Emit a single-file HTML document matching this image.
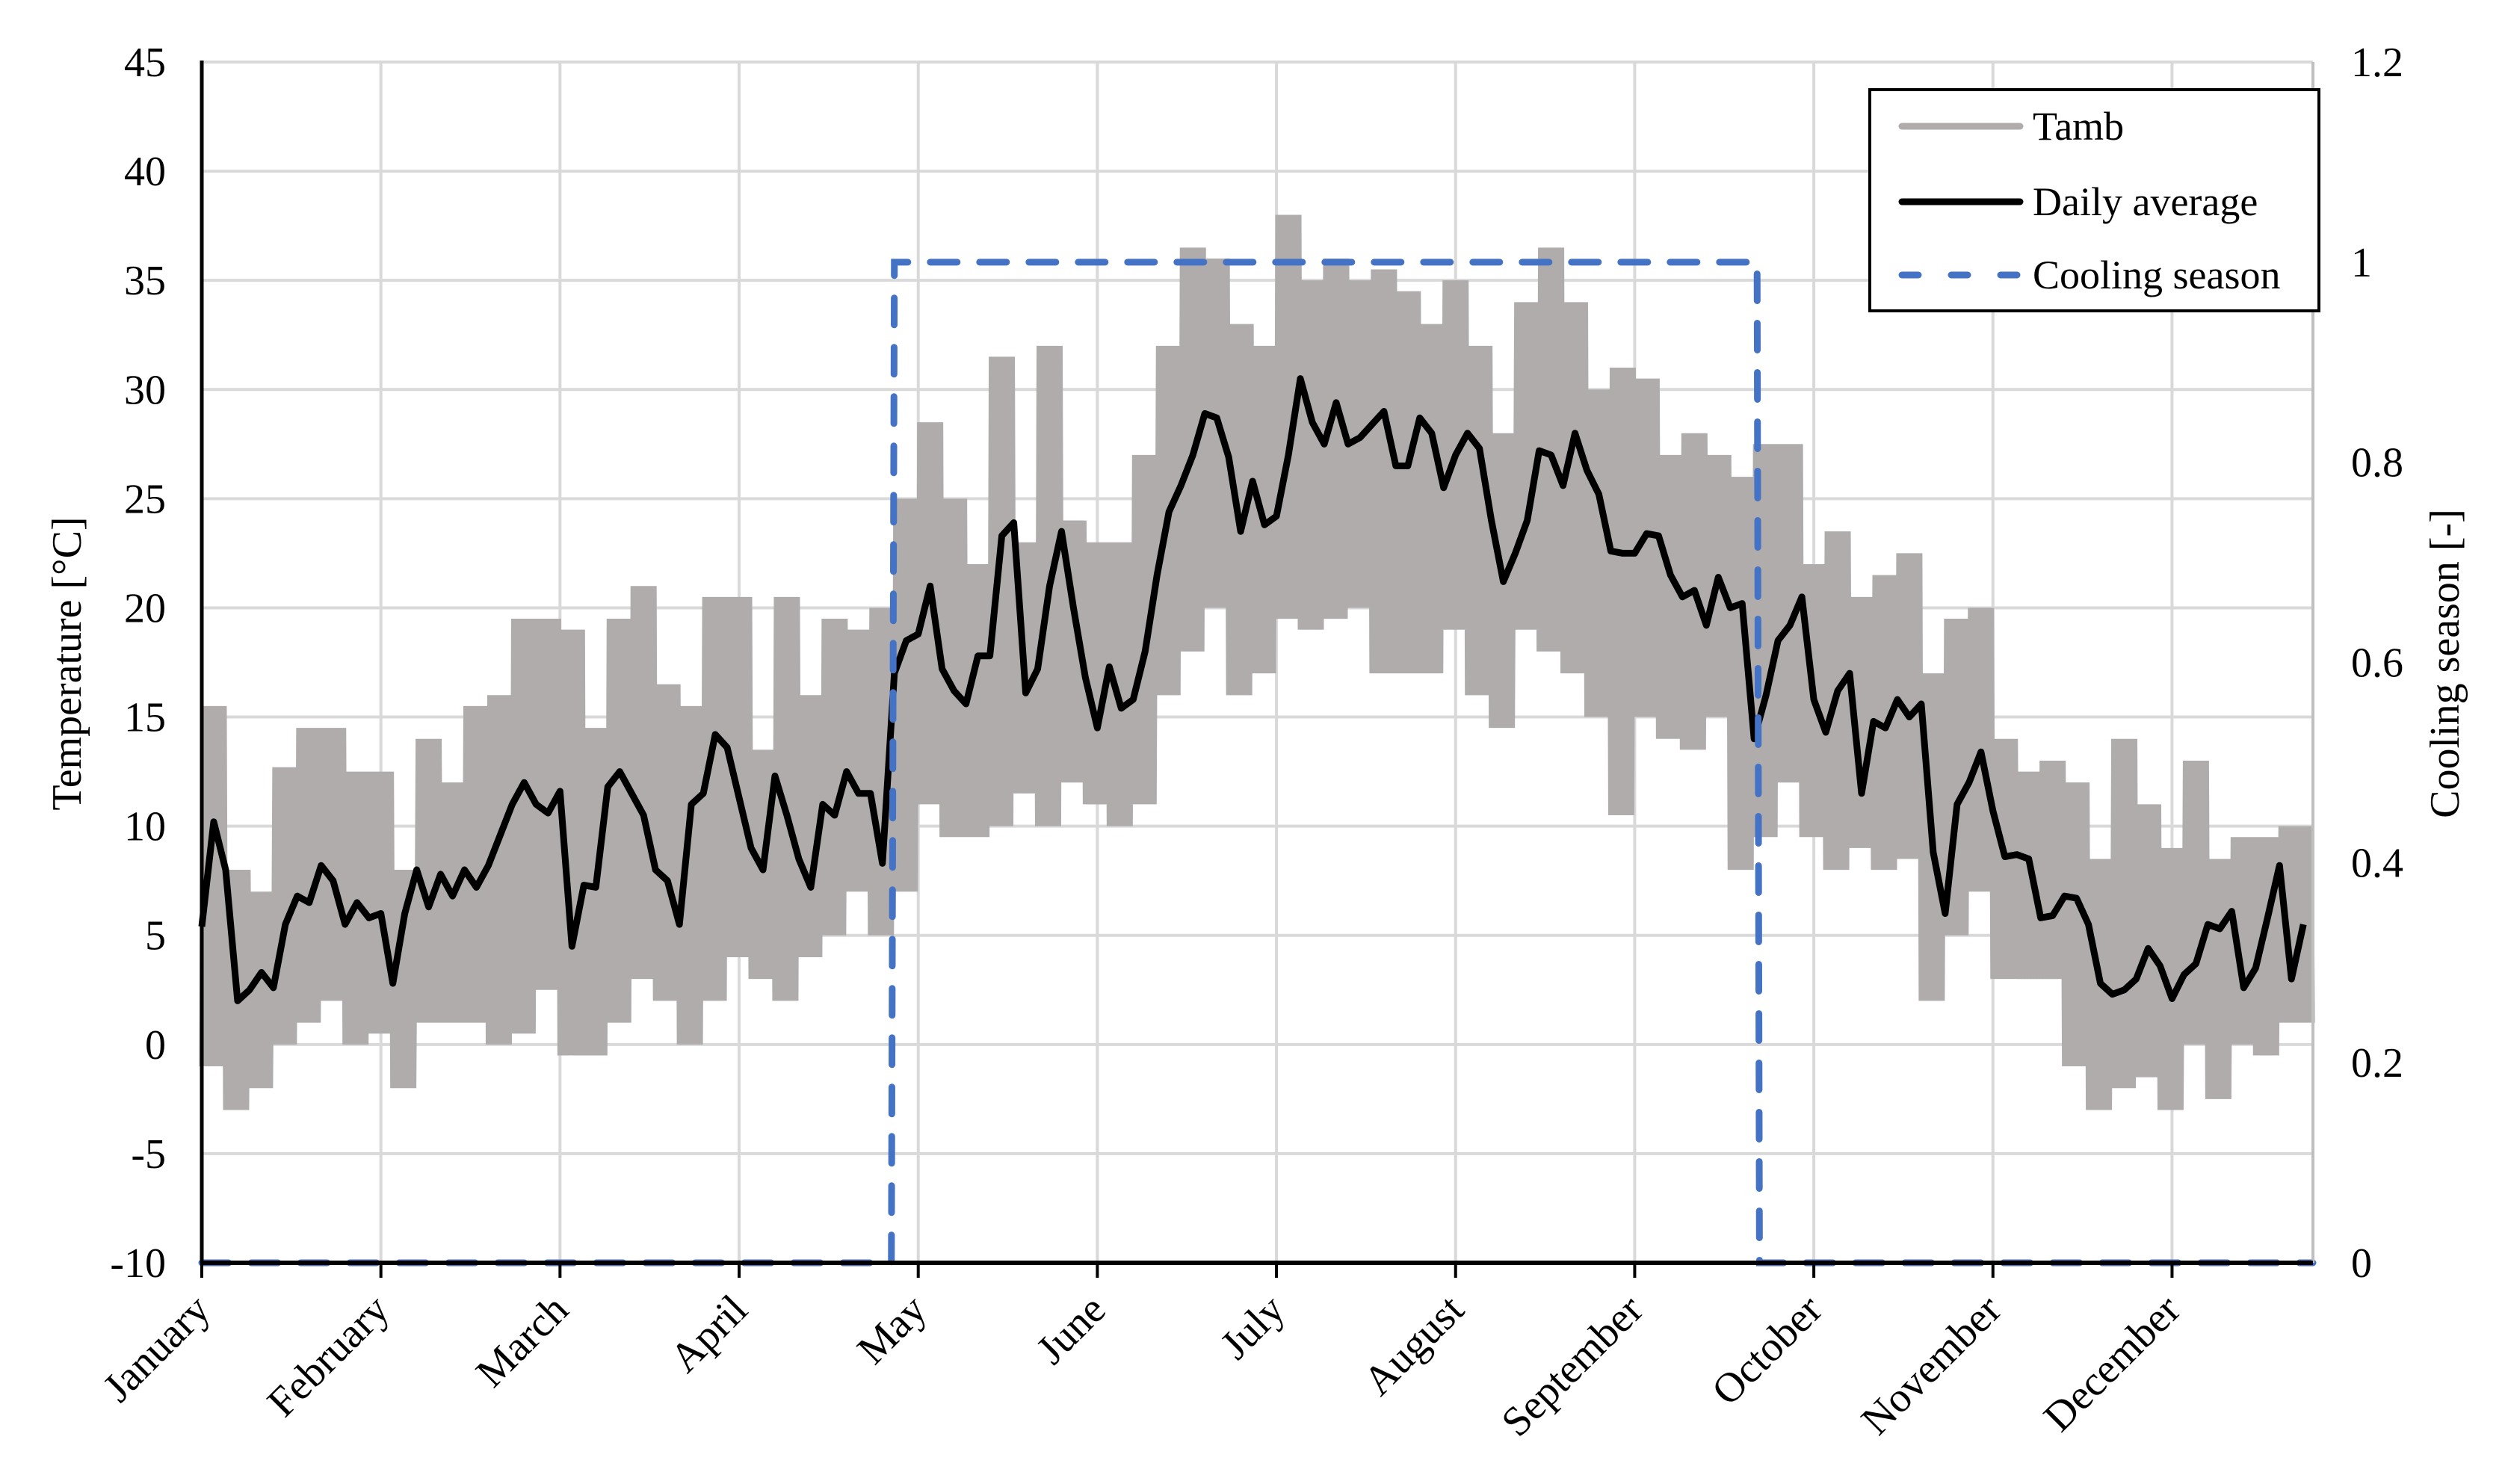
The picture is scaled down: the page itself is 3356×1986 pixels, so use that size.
<!DOCTYPE html>
<html><head><meta charset="utf-8"><style>
html,body{margin:0;padding:0;background:#fff;}
svg{display:block;font-family:"Liberation Serif",serif;}
</style></head><body>
<svg id="chart" width="3356" height="1986" viewBox="0 0 3356 1986" xmlns="http://www.w3.org/2000/svg">
<g id="grid"></g>
<g id="tamb"></g>
<g id="avg"></g>
<g id="cool"></g>
<g id="axes"></g>
<text x="0" y="0" font-size="56" text-anchor="middle" transform="translate(108,888) rotate(-90)">Temperature [°C]</text>
<text x="0" y="0" font-size="56" text-anchor="middle" transform="translate(3290,888) rotate(-90)">Cooling season [-]</text>
<g>
<rect x="2502" y="120" width="601" height="296" fill="#fff" stroke="#000" stroke-width="4"/>
<g><line x1="2545" y1="169" x2="2703" y2="169" stroke="#afacab" stroke-width="9" stroke-linecap="round"/><text x="2720" y="187" font-size="54">Tamb</text></g>
<g><line x1="2545" y1="270" x2="2703" y2="270" stroke="#000" stroke-width="9" stroke-linecap="round"/><text x="2720" y="288" font-size="54">Daily average</text></g>
<g><line x1="2545" y1="368" x2="2703" y2="368" stroke="#4472c4" stroke-width="9" stroke-linecap="round" stroke-dasharray="22,44"/><text x="2720" y="386" font-size="54">Cooling season</text></g>
</g>
</svg>
<script>
const months = ["January","February","March","April","May","June","July","August","September","October","November","December"];
const yTicks = [-10,-5,0,5,10,15,20,25,30,35,40,45];
const y2Ticks = ["0","0.2","0.4","0.6","0.8","1","1.2"];
// daily average, every 2 days starting day 0 (30-day months)
const avgTemp = [
5.4,10.2,8,2,2.5,3.3,2.6,5.5,6.8,6.5,8.2,7.5,5.5,6.5,5.8,
6,2.8,6,8,6.3,7.8,6.8,8,7.2,8.2,9.6,11,12,11,10.6,
11.6,4.5,7.3,7.2,11.8,12.5,11.5,10.5,8,7.5,5.5,11,11.5,14.2,13.6,
11.3,9,8,12.3,10.5,8.5,7.2,11,10.5,12.5,11.5,11.5,8.3,17,18.5,
18.8,21,17.2,16.2,15.6,17.8,17.8,23.3,23.9,16.1,17.2,21,23.5,20,16.8,
14.5,17.3,15.4,15.8,18,21.5,24.4,25.6,27,28.9,28.7,26.9,23.5,25.8,23.8,
24.2,27,30.5,28.5,27.5,29.4,27.5,27.8,28.4,29,26.5,26.5,28.7,28,25.5,
27,28,27.3,24,21.2,22.5,24,27.2,27,25.6,28,26.3,25.2,22.6,22.5,
22.5,23.4,23.3,21.5,20.5,20.8,19.2,21.4,20,20.2,14,16,18.5,19.2,20.5,
15.8,14.3,16.2,17,11.5,14.8,14.5,15.8,15,15.6,8.8,6,11,12,13.4,
10.7,8.6,8.7,8.5,5.8,5.9,6.8,6.7,5.5,2.8,2.3,2.5,3,4.4,3.6,
2.1,3.2,3.7,5.5,5.3,6.1,2.6,3.5,5.8,8.2,3,5.5];
// hourly ambient envelope, per 4-day block starting day 0
const tambHigh = [15.5,8,7,12.7,14.5,14.5,12.5,12.5,8,14,12,15.5,16,19.5,19.5,19,14.5,19.5,21,16.5,15.5,20.5,20.5,13.5,20.5,16,19.5,19,20,25,28.5,25,22,31.5,23,32,24,23,23,27,32,36.5,36,33,32,38,35,36,35,35.5,34.5,33,35,32,28,34,36.5,34,30,31,30.5,27,28,27,26,27.5,27.5,22,23.5,20.5,21.5,22.5,17,19.5,20,14,12.5,13,12,8.5,14,11,9,13,8.5,9.5,9.5,10,10];
const tambLow = [-1,-3,-2,0,1,2,0,0.5,-2,1,1,1,0,0.5,2.5,-0.5,-0.5,1,3,2,0,2,4,3,2,4,5,7,5,7,11,9.5,9.5,10,11.5,10,12,11,10,11,16,18,20,16,17,19.5,19,19.5,20,17,17,17,19,16,14.5,19,18,17,15,10.5,15,14,13.5,15,8,9.5,12,9.5,8,9,8,8.5,2,5,7,3,3,3,-1,-3,-2,-1.5,-3,0,-2.5,0,-0.5,1,1];
const coolStart = 115.5, coolEnd = 260.5, coolVals = [0,1,0];

const L=270,R=3095,T=83,B=1690;
const NS="http://www.w3.org/2000/svg";
const xs=d=>L+d*((R-L)/353.6);
const ys=t=>T+(45-t)*(B-T)/55;
const y2=v=>B-v*(B-T)/1.2;
function mk(tag,attrs,parent){const e=document.createElementNS(NS,tag);for(const k in attrs)e.setAttribute(k,attrs[k]);parent.appendChild(e);return e;}
const grid=document.getElementById('grid'),axes=document.getElementById('axes');
yTicks.forEach(t=>{
 const g=mk('line',{x1:L,x2:R,y1:ys(t),y2:ys(t),stroke:'#d9d9d9','stroke-width':4},grid);
 
 
 const tx=mk('text',{x:222,y:ys(t)+19,'font-size':56,'text-anchor':'end'},axes);tx.textContent=t;
 
 
});
y2Ticks.forEach(v=>{
 const tx=mk('text',{x:3146,y:y2(parseFloat(v))+19,'font-size':56},axes);tx.textContent=v;
 
 
});
months.forEach((m,i)=>{
 const x=xs(i*30);
 if(i>0){const g=mk('line',{x1:x,x2:x,y1:T,y2:B,stroke:'#d9d9d9','stroke-width':4},grid);
 
 }
 const tk=mk('line',{x1:x,x2:x,y1:B,y2:B+20,stroke:'#000','stroke-width':4},axes);
 
 
 const tx=mk('text',{x:0,y:0,'font-size':56,'text-anchor':'end',transform:`translate(${x+14},${B+66}) rotate(-45)`},axes);tx.textContent=m;
 
 
});
mk('line',{x1:R,x2:R,y1:T,y2:B,stroke:'#bfbfbf','stroke-width':4},axes);
mk('line',{x1:L,x2:L,y1:T-2,y2:B,stroke:'#000','stroke-width':5},axes);
mk('line',{x1:L,x2:R,y1:B,y2:B,stroke:'#000','stroke-width':6},axes);
// Tamb zigzag
let pts=[];
tambHigh.forEach((h,i)=>{
 const lo=tambLow[i];
 for(let k=0;k<16;k++){const d=i*4+k*0.25;if(d>353.6)break;pts.push(xs(d)+','+ys(k%2?h:lo));}
});
const tp=mk('polyline',{points:pts.join(' '),fill:'none',stroke:'#afacab','stroke-width':7,'stroke-linejoin':'miter'},document.getElementById('tamb'));


// daily average
const ap=mk('polyline',{points:avgTemp.map((t,i)=>xs(i*2)+','+ys(t)).join(' '),fill:'none',stroke:'#000','stroke-width':9,'stroke-linejoin':'round'},document.getElementById('avg'));


// cooling season
const cpts=[[0,coolVals[0]],[coolStart,coolVals[0]],[coolStart+0.5,coolVals[1]],[coolEnd,coolVals[1]],[coolEnd+0.4,coolVals[2]],[353.6,coolVals[2]]];
const cp=mk('polyline',{points:cpts.map(p=>xs(p[0])+','+y2(p[1])).join(' '),fill:'none',stroke:'#4472c4','stroke-width':9,'stroke-dasharray':'36,30','stroke-linecap':'round'},document.getElementById('cool'));


</script>
</body></html>
